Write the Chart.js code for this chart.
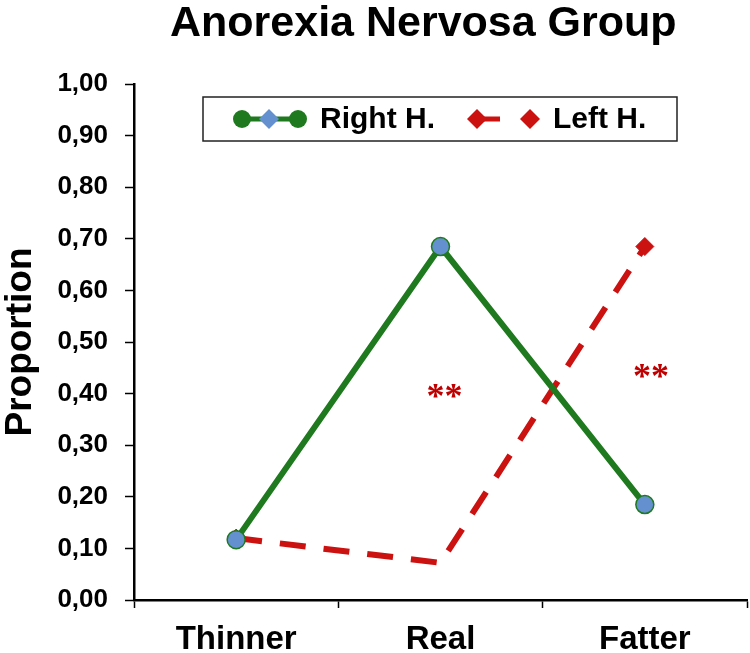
<!DOCTYPE html>
<html>
<head>
<meta charset="utf-8">
<script src="https://cdn.jsdelivr.net/npm/chart.js@4.4.0/dist/chart.umd.min.js"></script>
<style>
  html, body { margin: 0; padding: 0; background: #fff; }
  #wrap { width: 750px; height: 653px; }
</style>
</head>
<body>
<div id="wrap"><canvas id="chart"></canvas></div>
<script>
// Data
const chartTitle = 'Anorexia Nervosa Group';
const categories = ['Thinner', 'Real', 'Fatter'];
const rightH = [0.117, 0.685, 0.185];
const leftH = [0.12, 0.072, 0.685];
const yTicks = [0, 0.1, 0.2, 0.3, 0.4, 0.5, 0.6, 0.7, 0.8, 0.9, 1.0];
// significance marks: category position and y value
const starX = [1.02, 2.03];
const starY = [0.405, 0.444];
const starText = ['**', '**'];

const GREEN = '#1f7a1f';
const RED = '#cc1111';
const BLUE = '#6490cf';
const FONT = '"Liberation Sans", Arial, sans-serif';

function diamond(ctx, x, y, r) {
    ctx.beginPath();
    ctx.moveTo(x, y - r); ctx.lineTo(x + r, y); ctx.lineTo(x, y + r); ctx.lineTo(x - r, y);
    ctx.closePath(); ctx.fill();
}

// Title placed like the original (left edge near x=170)
const topTitle = {
    id: 'topTitle',
    afterDraw(chart) {
        const ctx = chart.ctx;
        ctx.save();
        ctx.fillStyle = '#000';
        ctx.font = 'bold 43px ' + FONT;
        ctx.textAlign = 'left';
        ctx.textBaseline = 'alphabetic';
        ctx.fillText(chartTitle, 170, 36);
        ctx.restore();
    }
};

// Boxed legend drawn inside the plot area
const boxLegend = {
    id: 'boxLegend',
    afterDraw(chart) {
        const ctx = chart.ctx;
        const a = chart.chartArea;
        const top = a.top + 13, h = 44;
        const left = a.left + 69, right = a.left + 543;
        const cy = top + h / 2;
        const x0 = a.left;
        ctx.save();
        ctx.fillStyle = '#fff';
        ctx.fillRect(left, top, right - left, h);
        ctx.strokeStyle = '#222';
        ctx.lineWidth = 1.5;
        ctx.strokeRect(left, top, right - left, h);

        // Right H. sample
        ctx.strokeStyle = GREEN;
        ctx.lineWidth = 5;
        ctx.beginPath();
        ctx.moveTo(x0 + 108, cy); ctx.lineTo(x0 + 164, cy);
        ctx.stroke();
        ctx.fillStyle = GREEN;
        [108, 164].forEach(dx => {
            ctx.beginPath(); ctx.arc(x0 + dx, cy, 9, 0, Math.PI * 2); ctx.fill();
        });
        ctx.fillStyle = BLUE;
        diamond(ctx, x0 + 135, cy, 10);

        // Left H. sample
        ctx.strokeStyle = RED;
        ctx.lineWidth = 5;
        ctx.beginPath();
        ctx.moveTo(x0 + 343, cy); ctx.lineTo(x0 + 366, cy);
        ctx.stroke();
        ctx.fillStyle = RED;
        diamond(ctx, x0 + 343, cy, 10);
        diamond(ctx, x0 + 396, cy, 10);

        ctx.fillStyle = '#000';
        ctx.font = 'bold 30px ' + FONT;
        ctx.textBaseline = 'middle';
        ctx.textAlign = 'left';
        ctx.fillText(chart.data.datasets[0].label, x0 + 186, cy + 1);
        ctx.fillText(chart.data.datasets[1].label, x0 + 419, cy + 1);
        ctx.restore();
    }
};

// "**" significance marks
const stars = {
    id: 'stars',
    afterDatasetsDraw(chart) {
        const ctx = chart.ctx;
        const xs = chart.scales.x, ys = chart.scales.y;
        ctx.save();
        ctx.fillStyle = '#c00000';
        ctx.font = 'bold 36px "Liberation Serif", "Times New Roman", serif';
        ctx.textAlign = 'center';
        ctx.textBaseline = 'alphabetic';
        starText.forEach((t, i) => {
            ctx.fillText(t, xs.getPixelForValue(starX[i]), ys.getPixelForValue(starY[i]) + 17);
        });
        ctx.restore();
    }
};

new Chart(document.getElementById('chart'), {
    type: 'line',
    data: {
        labels: categories,
        datasets: [{
            label: 'Right H.',
            data: rightH,
            borderColor: GREEN,
            borderWidth: 6,
            pointStyle: 'circle',
            pointRadius: 9,
            pointBackgroundColor: BLUE,
            pointBorderColor: GREEN,
            pointBorderWidth: 1.5,
            tension: 0
        }, {
            label: 'Left H.',
            data: leftH,
            borderColor: RED,
            borderWidth: 6,
            borderDash: [26, 18],
            pointStyle: 'rectRot',
            pointRadius: [9, 0, 9],
            pointBackgroundColor: RED,
            pointBorderColor: RED,
            pointBorderWidth: 1,
            tension: 0
        }]
    },
    options: {
        responsive: true,
        maintainAspectRatio: false,
        animation: false,
        layout: {
            autoPadding: false,
            padding: { left: 0, right: 3, top: 84, bottom: 0 }
        },
        plugins: {
            legend: { display: false },
            tooltip: { enabled: false },
            title: { display: false }
        },
        scales: {
            x: {
                offset: true,
                afterFit(scale) {
                    scale.height = 53;
                    scale.paddingLeft = 0;
                    scale.paddingRight = 0;
                },
                grid: {
                    offset: true,
                    drawOnChartArea: false,
                    tickLength: 8,
                    tickColor: '#000',
                    tickWidth: 1.5
                },
                border: { color: '#000', width: 2.5 },
                ticks: {
                    color: '#000',
                    padding: 15,
                    font: { family: FONT, size: 33, weight: 'bold', lineHeight: 1 }
                }
            },
            y: {
                min: 0,
                max: 1,
                afterFit(scale) { scale.width = 134; },
                afterBuildTicks(scale) {
                    scale.ticks = yTicks.map(v => ({ value: v }));
                },
                grid: {
                    drawOnChartArea: false,
                    tickLength: 9,
                    tickColor: '#000',
                    tickWidth: 1.5
                },
                border: { color: '#000', width: 2.5 },
                ticks: {
                    color: '#000',
                    padding: 17,
                    font: { family: FONT, size: 26, weight: 'bold', lineHeight: 1 },
                    callback: v => v.toFixed(2).replace('.', ',')
                },
                title: {
                    display: true,
                    text: 'Proportion',
                    color: '#000',
                    font: { family: FONT, size: 37, weight: 'bold', lineHeight: 1 },
                    padding: { top: 2, bottom: 1 }
                }
            }
        }
    },
    plugins: [stars, boxLegend, topTitle]
});
</script>
</body>
</html>
